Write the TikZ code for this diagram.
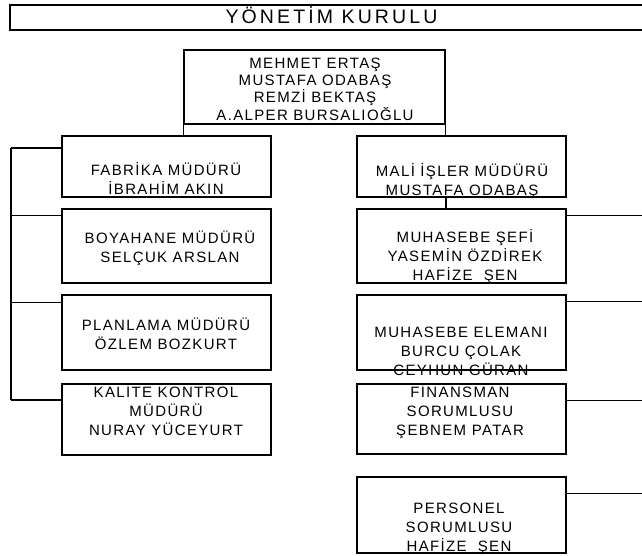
\documentclass[tikz,border=0pt]{standalone}
\usepackage{fontspec}
\setmainfont{Liberation Sans}
\newfontfamily\boxfont[LetterSpace=9]{Liberation Sans}
\newfontfamily\titlefont[LetterSpace=16]{Liberation Sans}
\newcommand\topst{\rule{0pt}{1.008em}}
\newcommand\botst{\rule[-0.292em]{0pt}{0.292em}}
\begin{document}
\begin{tikzpicture}[x=1pt,y=-1pt,
  frame/.style={draw, line width=2pt, rectangle, inner sep=0pt},
  lbox/.style={frame, minimum width=208.5pt},
  rbox/.style={frame, minimum width=209pt},
  txt/.style={inner sep=0pt, align=center, font=\boxfont\fontsize{15}{19}\selectfont},
  btxt/.style={inner sep=0pt, align=center, font=\boxfont\fontsize{15}{17.3}\selectfont},
  ttxt/.style={inner sep=0pt, font=\titlefont\fontsize{19.5}{22}\selectfont},
  thinline/.style={line width=1pt},
  thickline/.style={line width=2pt}]
\useasboundingbox (0,0) rectangle (642,556);
\fill[white] (0,0) rectangle (642,556);
% title bar
\node[frame, minimum width=644pt, minimum height=25.3pt] (bar) at (332,17.35) {};
\node[ttxt] (bartxt) at (331.5,17) {\topst YÖNETİM KURULU\botst};
% board
\node[frame, minimum width=260.5pt, minimum height=73.5pt] (board) at (314.25,87.25) {};
\node[btxt] (boardtxt) at (315,88.75) {\topst MEHMET ERTAŞ\\MUSTAFA ODABAŞ\\REMZİ BEKTAŞ\\A.ALPER BURSALIOĞLU\botst};
% left column
\node[lbox, minimum height=61pt] (fab) at (166.25,166.5) {};
\node[txt] (fabtxt) at (166,180) {\topst FABRİKA MÜDÜRÜ\\İBRAHİM AKIN\botst};
\node[lbox, minimum height=74pt] (boy) at (166.25,246) {};
\node[txt] (boytxt) at (170,247.5) {\topst BOYAHANE MÜDÜRÜ\\SELÇUK ARSLAN\botst};
\node[lbox, minimum height=75.5pt] (pla) at (166.25,332.25) {};
\node[txt] (platxt) at (166,335) {\topst PLANLAMA MÜDÜRÜ\\ÖZLEM BOZKURT\botst};
\node[lbox, minimum height=71pt] (kal) at (166.25,419.1) {};
\node[txt] (kaltxt) at (166,411.5) {\topst KALİTE KONTROL\\MÜDÜRÜ\\NURAY YÜCEYURT\botst};
% right column
\node[rbox, minimum height=61pt] (mali) at (461.5,166.5) {};
\node[txt] (malitxt) at (462,181) {\topst MALİ İŞLER MÜDÜRÜ\\MUSTAFA ODABAŞ\botst};
\node[rbox, minimum height=74pt] (sef) at (461.5,246) {};
\node[txt] (seftxt) at (465,256.5) {\topst MUHASEBE ŞEFİ\\YASEMİN ÖZDİREK\\HAFİZE\ \ ŞEN\botst};
\node[rbox, minimum height=74.5pt] (ele) at (461.5,332.25) {};
\node[txt] (eletxt) at (461,351.5) {\topst MUHASEBE ELEMANI\\BURCU ÇOLAK\\CEYHUN GÜRAN\botst};
\node[rbox, minimum height=70pt] (fin) at (461.5,419.4) {};
\node[txt] (fintxt) at (460,411.5) {\topst FİNANSMAN\\SORUMLUSU\\ŞEBNEM PATAR\botst};
\node[rbox, minimum height=76pt] (per) at (461.5,514.7) {};
\node[txt] (pertxt) at (459,527.5) {\topst PERSONEL\\SORUMLUSU\\HAFİZE\ \ ŞEN\botst};
% bus coordinates
\coordinate (lb1) at (11,148.3);
\coordinate (lb2) at (11,215.7);
\coordinate (lb3) at (11,302.3);
\coordinate (lb4) at (11,400);
\coordinate (rb1) at (645,215.7);
\coordinate (rb2) at (645,301.5);
\coordinate (rb3) at (645,400);
\coordinate (rb4) at (645,493.3);
% connectors
\draw[thinline] (board.south west) -- (board.south west |- fab.north);
\draw[thinline] (board.south east) -- (board.south east |- mali.north);
\draw[thickline] (board.south east |- mali.south) -- (board.south east |- sef.north);
\draw[thickline] (lb1) -- (lb4);
\draw[thickline] (lb1) -- (lb1 -| fab.west);
\draw[thinline] (lb2) -- (lb2 -| boy.west);
\draw[thinline] (lb3) -- (lb3 -| pla.west);
\draw[thickline] (lb4) -- (lb4 -| kal.west);
\draw[thinline] (rb1 -| sef.east) -- (rb1);
\draw[thinline] (rb2 -| ele.east) -- (rb2);
\draw[thinline] (rb3 -| fin.east) -- (rb3);
\draw[thinline] (rb4 -| per.east) -- (rb4);
\end{tikzpicture}
\end{document}
